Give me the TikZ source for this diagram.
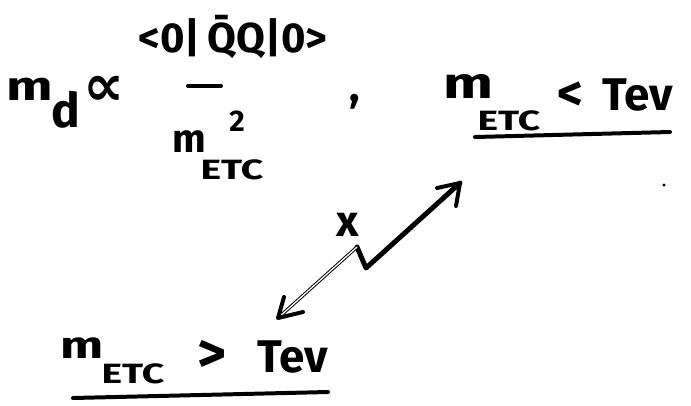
\documentclass[tikz,border=0pt]{standalone}
\usepackage{fontspec}
\setmainfont{Fira Sans}
\newfontfamily\symfont{DejaVu Sans}
\newcommand{\etcword}{\scalebox{1.4}[1]{ETC}}
\newcommand{\widem}{\scalebox{1.35}[1]{m}}
\tikzset{
  hw/.style={inner sep=0pt, font=\bfseries},
  fs/.style={hw, font=\bfseries\fontsize{#1}{#1}\selectfont},
  pen/.style={line width=4pt, line cap=round, line join=round},
}
\begin{document}
\begin{tikzpicture}[x=1bp,y=-1bp]
\useasboundingbox (0,0) rectangle (691,405);
% left formula
\node[fs=41] (m1) at (30,89) {\widem};
\node[fs=48] (d1) at (66,110) {d};
\node[fs=58] (propsym) at (104,91) {\symfont\bfseries ∝};
\node[fs=42] (num) at (233,37) {<0|\,\={Q}Q|0>};
\draw[pen] (188,86) -- (221,86);
\node[fs=40] (m2) at (189,142) {m};
\node[fs=30] (two) at (237,121) {2};
\node[fs=28] (etc1) at (232,170) {\etcword};
\node[fs=44] (comma) at (355,102) {,};
% right label
\node[fs=44] (m3) at (468,86) {\widem};
\node[fs=28] (etc2) at (509,121) {\etcword};
\node[fs=50] (lt) at (570,96) {<};
\node[fs=46] (tev1) at (638,95) {Tev};
\draw[pen] (475,137) -- (670,132);
\fill (664,185) circle (1.6);
% arrow
\coordinate (U) at (460,183);
\coordinate (Z1) at (366,268);
\coordinate (Z2) at (357,247);
\coordinate (L) at (278,318);
\draw[pen, line width=5pt] (U) -- (Z1) -- (Z2);
\draw[line width=1pt, double, double distance=1.3pt, line cap=round] (Z2) -- (L);
\draw[pen] (437,188) -- (U) -- (456,206);
\draw[pen] (284,297) -- (L) -- (303,312);
\node[fs=44] (cross) at (348,225) {x};
% bottom label
\node[fs=38] (m4) at (82,348) {\widem};
\node[fs=28] (etc3) at (133,374) {\etcword};
\node[fs=56] (gt) at (212,356) {>};
\node[fs=46] (tev2) at (293,357) {Tev};
\draw[pen] (73,398) -- (328,392);
\end{tikzpicture}
\end{document}
